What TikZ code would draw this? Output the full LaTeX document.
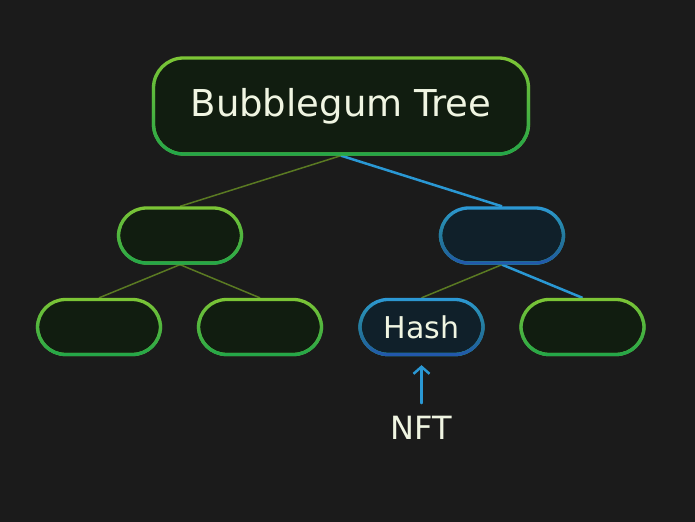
\documentclass[tikz,border=0pt]{standalone}
\usepackage{fontspec}
\setmainfont{DejaVu Sans}
\usetikzlibrary{arrows.meta,backgrounds,fadings}
\definecolor{bgcol}{HTML}{1B1B1B}
\definecolor{gtop}{HTML}{7EC636}
\definecolor{gbottom}{HTML}{22A64A}
\definecolor{gfill}{HTML}{111D10}
\definecolor{btop}{HTML}{2E9AD8}
\definecolor{bbottom}{HTML}{2256B0}
\definecolor{bfill}{HTML}{10202A}
\definecolor{leafline}{HTML}{5A7A22}
\definecolor{hashline}{HTML}{2A98D4}
\definecolor{txt}{HTML}{F0F5E2}
\tikzfading[name=fadebottom, top color=transparent!100, bottom color=transparent!0]
\begin{document}
\begin{tikzpicture}[x=1bp, y=-1bp, line join=round, line cap=round,
	box/.style={draw=gtop, fill=gfill, line width=3.3bp, rounded corners=28bp,
		minimum width=123bp, minimum height=55bp, inner sep=0pt, text=txt,
		postaction={draw=gbottom, path fading=fadebottom, fit fading=true}},
	bluebox/.style={box, draw=btop, fill=bfill,
		postaction={draw=bbottom, path fading=fadebottom, fit fading=true}},
	glink/.style={draw=leafline, line width=1.5bp},
	blink/.style={draw=hashline, line width=2.5bp}]
	\useasboundingbox (0,0) rectangle (695,522);
	% nodes of the tree
	\node[box, minimum width=375bp, minimum height=96bp, rounded corners=30bp,
		font=\fontsize{37bp}{44bp}\selectfont] (root) at (341,106) {Bubblegum Tree};
	\node[box] (left) at (180,235.5) {};
	\node[bluebox] (right) at (502,235.5) {};
	\node[box] (leftleft) at (99,327) {};
	\node[box] (leftright) at (260,327) {};
	\node[bluebox, font=\fontsize{30bp}{36bp}\selectfont] (hash) at (421.5,327) {Hash};
	\node[box] (rightright) at (582.5,327) {};
	\node[inner sep=0pt, text=txt, font=\fontsize{32bp}{38bp}\selectfont] (nft) at (421.5,428) {NFT};
	% links behind the nodes
	\begin{pgfonlayer}{background}
		\fill[bgcol] (0,0) rectangle (695,522);
		\draw[glink] (root.south) -- (left.north);
		\draw[blink] (root.south) -- (right.north);
		\draw[glink] (left.south) -- (leftleft.north);
		\draw[glink] (left.south) -- (leftright.north);
		\draw[glink] (right.south) -- (hash.north);
		\draw[blink] (right.south) -- (rightright.north);
	\end{pgfonlayer}
	\draw[blink, -{Straight Barb[length=7bp,width=16bp]}, shorten <=13bp, shorten >=9bp] (nft) -- (hash);
\end{tikzpicture}
\end{document}
